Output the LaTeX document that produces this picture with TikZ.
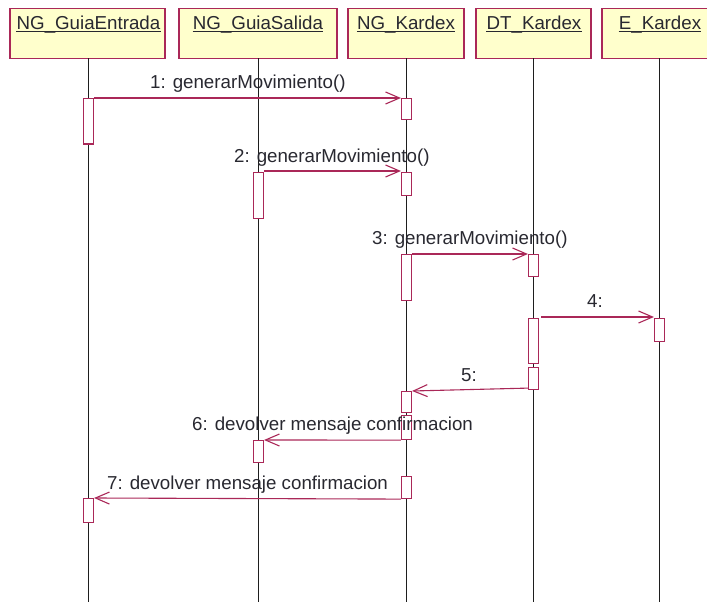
\documentclass[tikz,border=0pt]{standalone}
\usepackage{fontspec}
\setmainfont{Liberation Sans}
\usetikzlibrary{arrows.meta}
\definecolor{umlred}{RGB}{170,40,88}
\definecolor{umlfill}{RGB}{255,255,204}
\definecolor{umltext}{RGB}{40,40,48}
\definecolor{lifegray}{RGB}{30,30,30}
\tikzset{
  hdr/.style={draw=umlred, fill=umlfill, line width=1.2bp, minimum height=50bp, inner sep=0pt},
  hdrtext/.style={text=umltext, font=\fontsize{18.8pt}{20pt}\selectfont, inner sep=0pt, anchor=base},
  ulline/.style={draw=umltext, line width=1bp},
  life/.style={draw=lifegray, line width=1bp},
  act/.style={draw=umlred, fill=white, line width=1.1bp, minimum width=10bp, inner sep=0pt},
  msg/.style={draw=umlred, line width=1.1bp, -{Straight Barb[length=14bp,width=12bp,line width=1.1bp]}},
  lbl/.style={text=umltext, font=\fontsize{18.8pt}{20pt}\selectfont, inner sep=0pt, anchor=base west},
}
\begin{document}
\begin{tikzpicture}[x=1bp,y=-1bp]
\useasboundingbox (0,0) rectangle (707,602);
% lifelines x positions
\def\La{88.5}\def\Lb{258.5}\def\Lc{406.5}\def\Ld{533.5}\def\Le{659.5}
% headers
\node[hdr, minimum width=155bp] (h1) at (87.5,33.5) {};
\node[hdr, minimum width=158bp] (h2) at (258,33.5) {};
\node[hdr, minimum width=116bp] (h3) at (406,33.5) {};
\node[hdr, minimum width=115bp] (h4) at (533.5,33.5) {};
\node[hdr, minimum width=114bp] (h5) at (659,33.5) {};
\node[hdrtext] (t1) at (88.5,30) {NG\_GuiaEntrada};
\node[hdrtext] (t2) at (258,30) {NG\_GuiaSalida};
\node[hdrtext] (t3) at (406,30) {NG\_Kardex};
\node[hdrtext] (t4) at (534,30) {DT\_Kardex};
\node[hdrtext] (t5) at (660,30) {E\_Kardex};
\foreach \t in {t1,t2,t3,t4,t5}{
  \draw[ulline] ([yshift=-1.8bp]\t.base west) -- ([yshift=-1.8bp]\t.base east);
}
% lifeline ends
\coordinate (e1) at (\La,602);
\coordinate (e2) at (\Lb,602);
\coordinate (e3) at (\Lc,602);
\coordinate (e4) at (\Ld,602);
\coordinate (e5) at (\Le,602);
\coordinate (s1) at (\La,58.5);
\coordinate (s2) at (\Lb,58.5);
\coordinate (s3) at (\Lc,58.5);
\coordinate (s4) at (\Ld,58.5);
\coordinate (s5) at (\Le,58.5);
\draw[life] (s1) -- (e1);
\draw[life] (s2) -- (e2);
\draw[life] (s3) -- (e3);
\draw[life] (s4) -- (e4);
\draw[life] (s5) -- (e5);
% activations
\node[act, minimum height=45.5bp, anchor=north] (a1) at (\La,98) {};
\node[act, minimum height=21bp, anchor=north] (a2) at (\Lc,98) {};
\node[act, minimum height=46bp, anchor=north] (a3) at (\Lb,172) {};
\node[act, minimum height=23bp, anchor=north] (a4) at (\Lc,172) {};
\node[act, minimum height=46bp, anchor=north] (a5) at (\Lc,254) {};
\node[act, minimum height=22bp, anchor=north] (a6) at (\Ld,254) {};
\node[act, minimum height=45bp, anchor=north] (a7) at (\Ld,318) {};
\node[act, minimum height=23bp, anchor=north] (a8) at (\Le,318) {};
\node[act, minimum height=22bp, anchor=north] (a9) at (\Ld,367) {};
\node[act, minimum height=21bp, anchor=north] (a10) at (\Lc,391) {};
\node[act, minimum height=24bp, anchor=north] (a11) at (\Lc,415) {};
\node[act, minimum height=22bp, anchor=north] (a12) at (\Lb,440) {};
\node[act, minimum height=22bp, anchor=north] (a13) at (\Lc,476) {};
\node[act, minimum height=24bp, anchor=north] (a14) at (\La,498) {};
% messages
\draw[msg] (a1.north east) -- (a2.north west);
\draw[msg] ([yshift=1bp]a3.north east) -- ([yshift=1bp]a4.north west);
\draw[msg] (a5.north east) -- (a6.north west);
\draw[msg] ([xshift=2bp,yshift=1bp]a7.north east) -- ([yshift=1bp]a8.north west);
\draw[msg] ([yshift=2bp]a9.south west) -- (a10.north east);
\draw[msg] (a11.south west) -- (a12.north east);
\draw[msg] (a13.south west) -- (a14.north east);
% labels
\node[lbl] (l1) at (150,89) {1: generarMovimiento()};
\node[lbl] (l2) at (234,163) {2: generarMovimiento()};
\node[lbl] (l3) at (372,244) {3: generarMovimiento()};
\node[lbl] (l4) at (587,307) {4:};
\node[lbl] (l5) at (461,381) {5:};
\node[lbl] (l6) at (192,430) {6: devolver mensaje confirmacion};
\node[lbl] (l7) at (107,489) {7: devolver mensaje confirmacion};
\end{tikzpicture}
\end{document}
